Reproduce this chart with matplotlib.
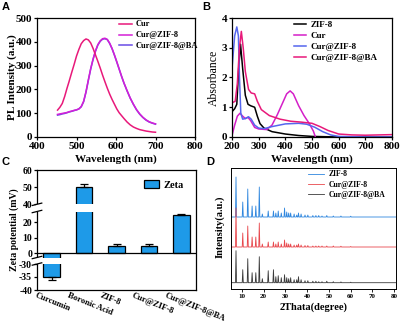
import numpy as np
import matplotlib
matplotlib.use('Agg')
import matplotlib.pyplot as plt
from matplotlib.patches import Patch
from matplotlib.transforms import blended_transform_factory, ScaledTranslation

plt.rcParams['font.family'] = ['Liberation Serif', 'DejaVu Serif']
plt.rcParams['font.weight'] = 'bold'
plt.rcParams['axes.linewidth'] = 0.9
plt.rcParams['xtick.major.width'] = 0.9
plt.rcParams['ytick.major.width'] = 0.9
plt.rcParams['xtick.major.size'] = 2.5
plt.rcParams['ytick.major.size'] = 2.5

# ---- panel A: PL spectra ----
pl_wl = [452, 458, 464, 470, 476, 481, 488, 494, 500, 506, 512, 518, 524, 530, 536, 542, 548, 554, 560, 566,
         572, 578, 584, 590, 596, 602, 608, 614, 620, 628, 636, 644, 652, 660, 668, 676, 684, 692, 700]
pl_cur = [113, 125, 141, 170, 205, 232, 272, 305, 340, 368, 392, 405, 412, 408, 395, 372, 345, 318, 290, 260,
          232, 205, 180, 158, 138, 118, 102, 90, 78, 63, 51, 42, 36, 31, 28, 25, 23, 21, 20]
pl_zif = [95, 97, 99, 101, 103, 106, 109, 112, 114, 118, 128, 150, 190, 240, 288, 328, 362, 388, 404, 413,
          415, 410, 394, 372, 345, 316, 286, 256, 228, 195, 164, 138, 115, 97, 83, 72, 64, 59, 55]
pl_ba = [92, 94, 97, 99, 102, 105, 108, 111, 114, 118, 127, 148, 188, 238, 286, 326, 360, 386, 402, 411,
         413, 409, 393, 371, 344, 315, 285, 255, 227, 194, 163, 137, 114, 96, 82, 71, 63, 58, 54]

# ---- panel B: UV-vis ----
uv_wl_zif = [200, 210, 218, 225, 232, 240, 250, 260, 270, 285, 295, 305, 320, 350, 400, 450, 500, 600, 700, 800]
uv_zif = [0.85, 0.95, 1.1, 2.3, 3.12, 2.3, 1.4, 1.1, 1.05, 1.0, 0.7, 0.45, 0.3, 0.18, 0.1, 0.05, 0.02, 0.0, 0.0, 0.0]
uv_wl_cur = [200, 210, 220, 230, 240, 250, 260, 270, 285, 300, 330, 350, 370, 390, 405, 418, 430, 450, 470, 490, 505, 512]
uv_cur = [0.05, 0.4, 0.7, 0.8, 0.7, 0.62, 0.66, 0.55, 0.32, 0.27, 0.25, 0.4, 0.75, 1.15, 1.45, 1.55, 1.45, 1.05,
          0.72, 0.45, 0.2, 0.02]
uv_wl_czif = [200, 210, 218, 224, 228, 233, 240, 250, 262, 272, 285, 300, 320, 350, 400, 450, 480, 510, 540, 570,
              600, 700, 800]
uv_czif = [2.3, 3.4, 3.7, 3.4, 2.0, 0.8, 0.6, 0.62, 0.68, 0.6, 0.4, 0.3, 0.28, 0.35, 0.44, 0.46, 0.43, 0.33, 0.18,
           0.07, 0.02, 0.0, 0.0]
uv_wl_ba = [200, 212, 220, 228, 235, 242, 250, 262, 272, 285, 295, 310, 340, 380, 420, 460, 500, 530, 560, 600,
            650, 700, 800]
uv_ba = [1.15, 1.2, 1.8, 3.0, 3.55, 3.0, 2.2, 1.6, 1.48, 1.45, 1.2, 0.92, 0.72, 0.6, 0.53, 0.5, 0.46, 0.35, 0.22,
         0.1, 0.07, 0.06, 0.08]

# ---- panel C: zeta potential ----
zeta_names = ['Curcumin', 'Boronic Acid', 'ZIF-8', 'Cur@ZIF-8', 'Cur@ZIF-8@BA']
zeta_vals = [-35, 50, 5, 5, 24.5]
zeta_err = [1.2, 2.0, 1.0, 1.0, 1.0]
zeta_ticks = [-40, -35, -30, 0, 10, 20, 40, 50, 60]

# ---- panel D: XRD ----
xrd_pos = [7.3, 10.4, 12.7, 14.7, 16.4, 18.0, 19.4, 22.1, 24.5, 25.6, 26.7, 28.1, 29.6, 30.6, 31.5, 32.4, 34.0,
           35.2, 36.0, 37.2, 39.0, 40.3, 42.6, 44.0, 45.3, 46.8, 49.0, 52.0, 55.5, 60.0]
xrd_zif = [40, 15, 28, 11, 11, 30, 3, 6, 6, 4, 6, 4, 9, 5, 4, 4, 3, 2, 4, 3, 2, 2, 1.5, 1.5, 1.5, 1, 1.5, 1, 1, 0.8]
xrd_czif = [39, 14, 21, 10, 10, 24, 3, 5, 5, 3, 5, 3, 7, 4, 3, 3, 2, 2, 3, 2, 1.5, 1.5, 1, 1, 1, 1, 1, 1, 0.8, 0.5]
xrd_ba = [32, 13, 24, 10, 10, 26, 4, 12, 13, 6, 7, 5, 8, 5, 4, 5, 3, 3, 6, 3, 2, 2, 1.5, 1.5, 1, 1, 1.5, 1, 0.8, 0.5]
xrd_offsets = [72, 42, 6.3]

W, H = 401, 321
fig = plt.figure(figsize=(W / 100, H / 100), dpi=100)


def box(l, t, r, b):
    return [l / W, 1 - b / H, (r - l) / W, (b - t) / H]


def ftext(x, y, s, **kw):
    fig.text(x / W, 1 - y / H, s, **kw)


# panel A
axA = fig.add_axes(box(37, 18, 195, 137))
axA.plot(pl_wl, pl_ba, color='#6a4be6', lw=1.1, label='Cur@ZIF-8@BA')
axA.plot(pl_wl, pl_zif, color='#d41fd6', lw=1.1, label='Cur@ZIF-8')
axA.plot(pl_wl, pl_cur, color='#e8197a', lw=1.1, label='Cur')
axA.set_xlim(400, 800)
axA.set_ylim(0, 500)
axA.set_xticks(range(400, 801, 100))
axA.set_yticks(range(0, 501, 100))
axA.tick_params(labelsize=8, pad=1)
h, l = axA.get_legend_handles_labels()
axA.legend(h[::-1], l[::-1], loc='upper left', bbox_to_anchor=(0.5, 1.0), frameon=False, fontsize=6,
           handlelength=1.6, handletextpad=0.4, labelspacing=0.35, borderpad=0.3, borderaxespad=0)
ftext(12, 77, 'PL Intensity (a.u.)', rotation=90, ha='center', va='center', fontsize=8)
ftext(116, 159, 'Wavelength (nm)', ha='center', va='center', fontsize=8)

# panel B
axB = fig.add_axes(box(232, 18, 392, 137))
axB.plot(uv_wl_zif, uv_zif, color='black', lw=1.1, label='ZIF-8')
axB.plot(uv_wl_cur, uv_cur, color='#d41fc8', lw=1.1, label='Cur')
axB.plot(uv_wl_czif, uv_czif, color='#5566ee', lw=1.1, label='Cur@ZIF-8')
axB.plot(uv_wl_ba, uv_ba, color='#e8197a', lw=1.1, label='Cur@ZIF-8@BA')
axB.set_xlim(200, 800)
axB.set_ylim(0, 4)
axB.set_xticks(range(200, 801, 100))
axB.set_yticks(range(0, 5))
axB.tick_params(labelsize=8, pad=1)
axB.legend(loc='upper left', bbox_to_anchor=(0.37, 1.0), frameon=False, fontsize=6.5,
           handlelength=1.3, handletextpad=0.5, labelspacing=0.3, borderpad=0.3, borderaxespad=0)
ftext(214, 78, 'Absorbance', rotation=90, ha='center', va='center', fontsize=8.5, fontweight='normal')
ftext(312, 159, 'Wavelength (nm)', ha='center', va='center', fontsize=8)

# panel C (broken y axis via piecewise scale)
knots_v = [-40, -30, -3, 0, 27, 40, 60]
knots_p = [0, 26, 32.5, 36.7, 78.5, 85.7, 120]


def fwd(v):
    return np.interp(v, knots_v, knots_p)


def inv(p):
    return np.interp(p, knots_p, knots_v)


axC = fig.add_axes(box(37, 170, 196, 290))
axC.set_yscale('function', functions=(fwd, inv))
xs = np.arange(len(zeta_vals))
vals = np.array(zeta_vals)
errs = np.array(zeta_err)
axC.bar(xs, vals, width=0.5, color='#1e9ae8', edgecolor='black', lw=0.9, label='Zeta', zorder=2)
lower = np.where(vals < 0, errs, 0)
upper = np.where(vals > 0, errs, 0)
axC.errorbar(xs, vals, yerr=[lower, upper], fmt='none', ecolor='black', elinewidth=0.9, capsize=3,
             capthick=0.9, zorder=3)
axC.axhline(0, color='black', lw=0.9, zorder=4)
axC.set_xlim(-0.45, 4.45)
axC.set_ylim(-40, 60)
axC.set_yticks(zeta_ticks)
axC.set_yticklabels([str(t) for t in zeta_ticks])
axC.tick_params(axis='y', labelsize=7, pad=1)
axC.set_xticks(xs)
axC.set_xticklabels(zeta_names, rotation=-22, ha='left', va='top', rotation_mode='anchor', fontsize=6.2)
axC.tick_params(axis='x', length=0, pad=1)
off = ScaledTranslation(-15 / 100, 0, fig.dpi_scale_trans)
for lab in axC.get_xticklabels():
    lab.set_transform(lab.get_transform() + off)
for lo, hi in [(-30, -3), (27, 40)]:
    axC.axhspan(lo, hi, xmin=-0.008, xmax=0.995, color='white', zorder=5, clip_on=False, lw=0)
trans = blended_transform_factory(axC.transAxes, axC.transData)
for yb in [-30, -3, 27, 40]:
    axC.plot([-0.03, 0.03], [inv(fwd(yb) - 1.2), inv(fwd(yb) + 1.2)], color='black', lw=0.9,
             transform=trans, clip_on=False, zorder=6)
axC.legend(handles=[Patch(facecolor='#1e9ae8', edgecolor='black', lw=0.9, label='Zeta')],
           loc='upper left', bbox_to_anchor=(0.66, 0.93), frameon=False, fontsize=7.5,
           handlelength=1.4, handleheight=0.8, handletextpad=0.5, borderpad=0.2, borderaxespad=0)
ftext(14, 230, 'Zeta potential (mV)', rotation=90, ha='center', va='center', fontsize=7)

# panel D
axD = fig.add_axes(box(231, 168, 396, 289))
xrd_sets = [(xrd_zif, '#2e86de', 'ZIF-8'), (xrd_czif, '#e8474c', 'Cur@ZIF-8'), (xrd_ba, '#3a3a3a', 'Cur@ZIF-8@BA')]
for (hts, col, name), base in zip(xrd_sets, xrd_offsets):
    px = [5.0]
    py = [base]
    for p, hh in zip(xrd_pos, hts):
        px += [p - 0.25, p, p + 0.25]
        py += [base, base + hh, base]
    px.append(80.8)
    py.append(base)
    axD.plot(px, py, color=col, lw=0.6, label=name)
axD.set_xlim(5, 80.8)
axD.set_ylim(0, 121)
axD.set_yticks([])
axD.set_xticks(range(10, 81, 10))
axD.tick_params(axis='x', labelsize=5, pad=1.5, length=2, width=0.6)
for s in axD.spines.values():
    s.set_linewidth(0.7)
axD.legend(loc='upper left', bbox_to_anchor=(0.45, 1.0), frameon=False, fontsize=5.5,
           handlelength=2.2, handletextpad=0.5, labelspacing=0.3, borderpad=0.3, borderaxespad=0)
ftext(220, 227, 'Intensity(a.u.)', rotation=90, ha='center', va='center', fontsize=7.5)
ftext(314, 307, '2Thata(degree)', ha='center', va='center', fontsize=7.5)

# panel letters
for x, y, s in [(2, 2, 'A'), (202, 2, 'B'), (1, 157, 'C'), (206, 157, 'D')]:
    ftext(x, y, s, ha='left', va='top', fontsize=8, fontweight='bold', family='Liberation Sans')

fig.savefig('out.png', dpi=100)
